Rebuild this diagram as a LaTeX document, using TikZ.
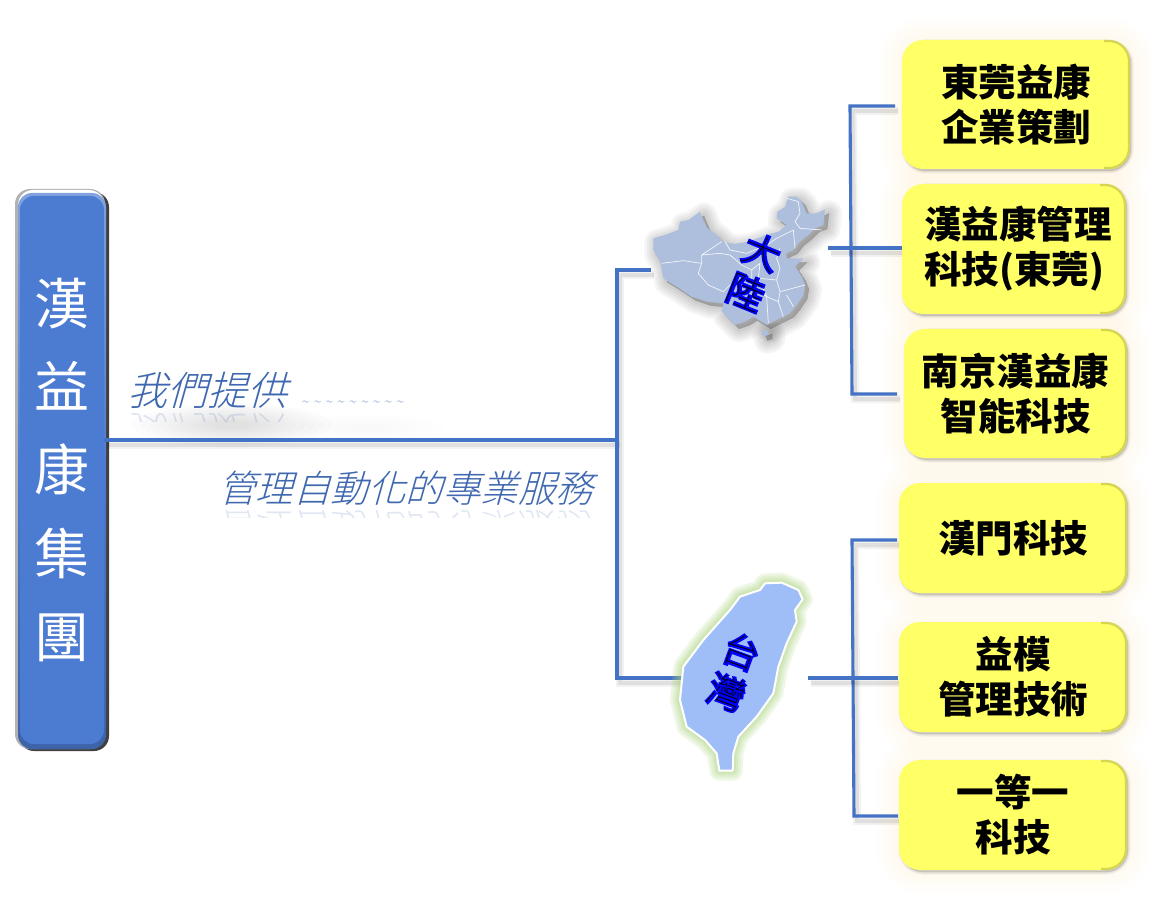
\documentclass[tikz,border=0pt]{standalone}
\usepackage{fontspec}
\setmainfont{Noto Sans CJK TC}
\newfontfamily\cjkreg{Noto Sans CJK TC}
\newfontfamily\cjkheavy[FakeBold=6]{Noto Sans CJK TC}
\newfontfamily\cjkslant[FakeSlant=0.28]{Noto Sans CJK TC Light}
\newfontfamily\cjkcore{Noto Sans CJK TC Thin}
\usetikzlibrary{calc}
\definecolor{lineblue}{HTML}{4472C4}
\definecolor{slanttext}{HTML}{3F68B0}
\definecolor{face}{HTML}{FFFF66}
\definecolor{facetop}{HTML}{FFFF8C}
\definecolor{facebot}{HTML}{C4C450}
\definecolor{faceedge}{HTML}{C8C84A}
\definecolor{mainface}{HTML}{4C7BD2}
\definecolor{chinafill}{HTML}{AEBFDD}
\definecolor{twblue}{HTML}{9FBDF7}
\definecolor{twlight}{HTML}{DDF0FC}
\definecolor{twglow}{HTML}{A8D37A}
\definecolor{labelblue}{HTML}{0000FF}
\pgfdeclareverticalshading{twshade}{100bp}{color(0bp)=(twlight); color(4bp)=(twlight); color(10bp)=(twblue); color(90bp)=(twblue); color(96bp)=(twlight); color(100bp)=(twlight)}
\pgfdeclareverticalshading{boxshade}{100bp}{color(0bp)=(facebot); color(3bp)=(facebot); color(9bp)=(face); color(88bp)=(face); color(94bp)=(facetop); color(100bp)=(facetop)}
\newcommand\mapword[1]{\leavevmode\rlap{\cjkheavy\color{labelblue}#1}{\cjkcore\color{black}#1}}
\newcommand\yelbox[6]{%
  \pgfmathsetmacro\bw{#4-#2}\pgfmathsetmacro\bh{#5-#3}%
  \pgfmathsetmacro\bx{(#2+#4)/2}\pgfmathsetmacro\by{(#3+#5)/2}%
  \foreach \w in {5,3,1}{\draw[black,fill=black,opacity=.045,line width=\w pt,rounded corners=22pt] (#2+2,#3+2) rectangle (#4+1,#5+2);}
  \node[yelbox face,minimum width=\bw pt,minimum height=\bh pt] (#1) at (\bx,\by) {#6};
  \draw[faceedge,opacity=.75,line width=2.2pt,rounded corners=20pt] (#4-26,#3+1) -- (#4-1,#3+1) -- (#4-1,#5-1) -- (#4-26,#5-1);
}
\tikzset{
  yelbox face/.style={shading=boxshade,rounded corners=21pt,inner sep=0pt,align=center,text=black,
    font=\bfseries\fontsize{37.5}{45}\selectfont},
  main face/.style={fill=mainface,rounded corners=14pt,inner sep=0pt,align=center,text=white,
    minimum width=84pt,minimum height=548pt,font=\cjkreg\fontsize{55}{83.4}\selectfont},
  linkline/.style={draw=lineblue,line width=3.1pt,line cap=butt,
    preaction={draw=black,opacity=.05,line width=8pt,transform canvas={shift={(3pt,-5pt)}}},
    preaction={draw=black,opacity=.08,line width=4pt,transform canvas={shift={(3pt,-5pt)}}}},
  slant text/.style={text=slanttext,inner sep=0pt,anchor=base west,font=\cjkslant\fontsize{37.5}{40}\selectfont},
  map label/.style={inner sep=0pt,align=center,font=\fontsize{37}{43}\selectfont},
}
\newcommand\chinapath{(100,205) -- (135,195) -- (175,180) -- (180,155) -- (205,150) -- (240,125) -- (250,150) -- (262,175) -- (285,190) -- (310,215) -- (345,222) -- (385,215) -- (440,195) -- (475,185) -- (500,165) -- (470,145) -- (472,125) -- (495,110) -- (505,80) -- (530,80) -- (545,95) -- (560,130) -- (590,130) -- (615,118) -- (610,165) -- (585,175) -- (565,195) -- (540,215) -- (520,240) -- (498,250) -- (500,265) -- (550,265) -- (525,290) -- (545,320) -- (555,345) -- (550,375) -- (530,405) -- (510,430) -- (470,450) -- (440,465) -- (400,440) -- (375,455) -- (345,465) -- (325,445) -- (305,425) -- (310,400) -- (260,395) -- (215,380) -- (170,350) -- (130,325) -- (120,275) -- (100,240) -- cycle}
\newcommand\hainanpath{(425,485) -- (445,480) -- (445,495) -- (430,500) -- cycle}
\newcommand\taiwanpath{(345,70) -- (395,68) -- (445,90) -- (458,118) -- (435,150) -- (440,185) -- (410,250) -- (385,320) -- (370,400) -- (320,470) -- (265,530) -- (250,580) -- (248,632) -- (208,632) -- (200,580) -- (165,540) -- (110,500) -- (90,420) -- (100,320) -- (160,240) -- (240,150) -- (270,110) -- (330,90) -- cycle}
\begin{document}
\begin{tikzpicture}[x=1pt,y=-1pt]
\useasboundingbox (0,0) rectangle (1171,912);
\fill[white] (0,0) rectangle (1171,912);
% pale glow behind the yellow boxes
\foreach \a/\b/\c/\d in {902/40/1130/169,902/184/1126/314,904/329/1127/458,899/483/1127/593,899/622/1127/732,899/760/1127/870}{
  \foreach \w in {48,38,28,18,10}{
    \draw[yellow,opacity=.01,line width=\w pt,rounded corners=22pt,fill=yellow,fill opacity=.01] (\a,\b) rectangle (\c,\d);
  }
}
% soft patch under the first phrase
\foreach \k in {0,...,9}{
  \fill[black,opacity=.012] (232,425) ellipse ({100-9*\k} and {22-2*\k});
}
\foreach \k in {0,...,5}{
  \fill[black,opacity=.005] (365,428) ellipse ({80-12*\k} and {14-2*\k});
}
% phrases
\node[slant text,font=\cjkslant\fontsize{40}{42}\selectfont] (we) at (127,405) {我們提供};
\node[slant text,text=slanttext!55,font=\cjkslant\fontsize{15}{16}\selectfont,anchor=base west] (tilde) at (300,407) {\textasciitilde\hspace{3.8pt}\textasciitilde\hspace{3.8pt}\textasciitilde\hspace{3.8pt}\textasciitilde\hspace{3.8pt}\textasciitilde\hspace{3.8pt}\textasciitilde\hspace{3.8pt}\textasciitilde\hspace{3.8pt}\textasciitilde\hspace{3.8pt}\textasciitilde};
\node[slant text] (serv) at (218,502) {管理自動化的專業服務};
\begin{scope}
  \clip (120,410) rectangle (300,421);
  \node[slant text,font=\cjkslant\fontsize{40}{42}\selectfont,opacity=.16,yscale=-1,transform shape] at (127,416) {我們提供};
\end{scope}
\begin{scope}
  \clip (215,507) rectangle (610,517);
  \node[slant text,opacity=.16,yscale=-1,transform shape] at (218,513) {管理自動化的專業服務};
\end{scope}
% main box
\fill[black!75,rounded corners=15pt] (19,192) rectangle (109,751);
\fill[black!30,rounded corners=15pt] (15,189) rectangle (105,749);
\fill[white,rounded corners=15pt] (18,190) rectangle (104,400);
\shade[top color=mainface!70!white,bottom color=mainface!80!black,middle color=mainface,rounded corners=14pt] (18,193) rectangle (106,749);
\node[main face] (main) at (62,470) {漢\\益\\康\\集\\團};
% junction coordinates
\coordinate (hub) at (617,440);
\coordinate (cnin) at (617,270);
\coordinate (twin) at (617,678);
\coordinate (cnend) at (651,270);
\coordinate (twend) at (682,678);
\coordinate (cnout) at (828,248);
\coordinate (cnbox) at (903,248);
\coordinate (twout) at (808,678);
\coordinate (twbox) at (898,678);
\coordinate (cna) at (850,106);
\coordinate (cnb) at (852,394);
\coordinate (cnaend) at (895,106);
\coordinate (cnbend) at (897,394);
\coordinate (twa) at (852,540);
\coordinate (twb) at (854,816);
\coordinate (twaend) at (897,540);
\coordinate (twbend) at (898,816);
% connectors
\draw[linkline] (main.east |- hub) -- (hub);
\draw[linkline,line join=miter] (cnend) -- (cnin) -- (twin) -- (twend);
\draw[linkline,line join=miter] (cnaend) -- (cna) -- (cnb) -- (cnbend);
\draw[linkline,line join=miter] (twaend) -- (twa) -- (twb) -- (twbend);
\draw[linkline] (cnout) -- (cnbox);
\draw[linkline] (twout) -- (twbox);
% China
\begin{scope}[shift={(620,170)},x=0.33333pt,y=-0.33333pt]
  \foreach \w in {26,21,16,11,6,1}{
    \begin{scope}[shift={(12,12)}]
      \path[fill=black,draw=black,opacity=.04,line width=\w pt,line join=round] \chinapath;
      \path[fill=black,draw=black,opacity=.04,line width=\w pt,line join=round] \hainanpath;
    \end{scope}
  }
  \fill[chinafill] \chinapath;
  \fill[chinafill] \hainanpath;
  \draw[white!85!chinafill,line width=.7pt,line join=round]
    (305,215) -- (275,235) -- (245,255) -- (245,280) -- (190,272) -- (125,280)
    (245,280) -- (235,310) -- (265,345) -- (310,365) -- (330,345)
    (245,255) -- (300,250) -- (330,255) -- (365,285) -- (395,300) -- (395,330) -- (360,340) -- (330,345)
    (315,215) -- (330,240) -- (380,250) -- (440,225) -- (470,205) -- (520,180)
    (500,85) -- (535,95) -- (540,130) -- (525,155) -- (540,175) -- (605,180)
    (520,180) -- (525,235)
    (395,300) -- (420,280) -- (415,325) -- (470,330) -- (480,295) -- (470,265) -- (480,235)
    (470,330) -- (480,365) -- (475,395) -- (440,380) -- (400,360)
    (480,365) -- (555,345)
    (475,395) -- (490,440)
    (415,325) -- (440,380) -- (445,460)
    (500,375) -- (520,410);
\end{scope}
\node[map label,rotate=-22] (cnlabel) at (754,272) {\mapword{大}\\\mapword{陸}};
% Taiwan
\begin{scope}[shift={(650,560)},x=0.33333pt,y=-0.33333pt]
  \foreach \w in {20,15,10,6}{
    \path[fill=twglow,draw=twglow,opacity=.18,line width=\w pt,line join=round] \taiwanpath;
  }
  \shade[shading=twshade] \taiwanpath;
  \draw[white,line width=2pt,line join=round] \taiwanpath;
\end{scope}
\node[map label,rotate=-20] (twlabel) at (734,672) {\mapword{台}\\\mapword{灣}};
% yellow boxes
\yelbox{boxa}{902}{40}{1130}{169}{東莞益康\\企業策劃}
\yelbox{boxb}{902}{184}{1126}{314}{\hspace*{8pt}漢益康管理\\科技(東莞)}
\yelbox{boxc}{904}{329}{1127}{458}{南京漢益康\\智能科技}
\yelbox{boxd}{899}{483}{1127}{593}{漢門科技}
\yelbox{boxe}{899}{622}{1127}{732}{益模\\管理技術}
\yelbox{boxf}{899}{760}{1127}{870}{一等一\\科技}
\end{tikzpicture}
\end{document}
